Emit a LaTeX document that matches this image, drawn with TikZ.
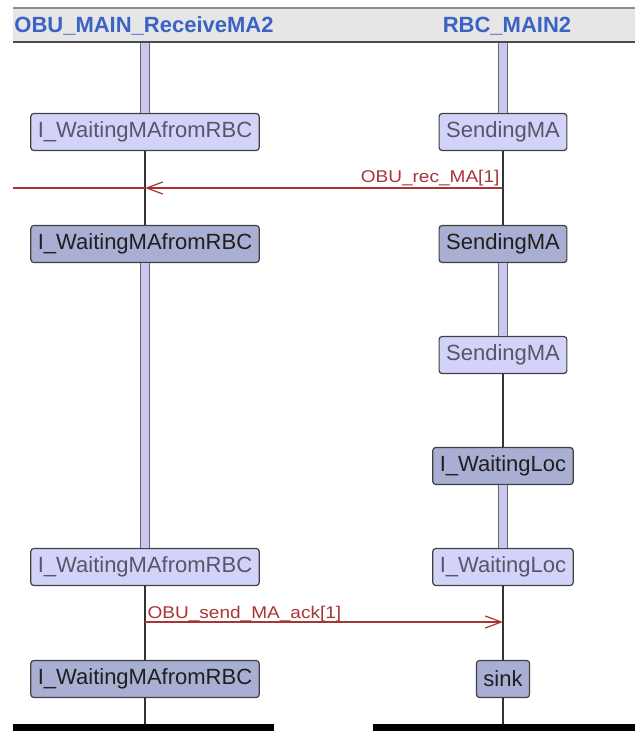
\documentclass[tikz,border=0pt]{standalone}
\usepackage{fontspec}
\setmainfont{Liberation Sans}
\newfontfamily\msgfont[FakeStretch=1.12]{Liberation Sans}
\usepackage{tikz}
\usetikzlibrary{arrows.meta}

\definecolor{stlight}{HTML}{D3D3F9}
\definecolor{stdark}{HTML}{A9AED3}
\definecolor{lighttext}{HTML}{55566A}
\definecolor{barfill}{HTML}{C8C8F0}
\definecolor{msgred}{HTML}{A83434}
\definecolor{titleblue}{HTML}{3C62C4}
\definecolor{hdrgray}{HTML}{E6E6E6}

\tikzset{
  statebox/.style={draw=black!75, rounded corners=1.5pt, line width=0.6pt,
    minimum height=18.5pt, inner xsep=3.5pt, inner ysep=0pt,
    font=\fontsize{11}{13}\selectfont},
  lightstate/.style={statebox, fill=stlight, text=lighttext},
  darkstate/.style={statebox, fill=stdark, text=black!88},
  lifebar/.style={draw=black!60, line width=0.5pt, double=barfill, double distance=3.8pt},
  lifeline/.style={draw=black!80, line width=0.6pt},
  msg/.style={msgred, line width=0.6pt, -{Straight Barb[length=8pt,width=6pt]}},
  msglabel/.style={text=msgred, font=\msgfont\fontsize{8.5}{10}\selectfont, inner sep=0pt},
  titletext/.style={text=titleblue, font=\bfseries\fontsize{11}{13}\selectfont, inner sep=0pt}
}

\begin{document}
\begin{tikzpicture}[x=0.5pt, y=-0.5pt]
                \useasboundingbox (0,0) rectangle (635,731);
                % header band
                \fill [hdrgray] (13,9) rectangle (635,41);
                \draw [black!45, line width=1pt] (13,8) -- (635,8);
                \draw [black!70, line width=1.3pt] (13,42) -- (635,42);
                \node [titletext, anchor=west] (obuname) at (14,26) {OBU\_MAIN\_ReceiveMA2};
                \node [titletext] (rbcname) at (507,26) {RBC\_MAIN2};
                \coordinate (topL) at (145,43);
                \coordinate (topR) at (503,43);
                \coordinate (endL) at (145,724);
                \coordinate (endR) at (503,724);
                % OBU states
                \node [lightstate] (obu1) at (145,132) {I\_WaitingMAfromRBC};
                \node [darkstate] (obu2) at (145,244) {I\_WaitingMAfromRBC};
                \node [lightstate] (obu3) at (145,567) {I\_WaitingMAfromRBC};
                \node [darkstate] (obu4) at (145,679) {I\_WaitingMAfromRBC};
                % RBC states
                \node [lightstate] (rbc1) at (503,132) {SendingMA};
                \node [darkstate] (rbc2) at (503,244) {SendingMA};
                \node [lightstate] (rbc3) at (503,355) {SendingMA};
                \node [darkstate] (rbc4) at (503,466) {I\_WaitingLoc};
                \node [lightstate] (rbc5) at (503,567) {I\_WaitingLoc};
                \node [darkstate] (rbc6) at (503,679) {sink};
                % lifelines
                \draw [lifebar] (topL) -- (obu1);
                \draw [lifebar] (obu2) -- (obu3);
                \draw [lifebar] (topR) -- (rbc1);
                \draw [lifebar] (rbc2) -- (rbc3);
                \draw [lifebar] (rbc4) -- (rbc5);
                \draw [lifeline] (obu1) -- (obu2);
                \draw [lifeline] (obu3) -- (obu4);
                \draw [lifeline] (obu4) -- (endL);
                \draw [lifeline] (rbc1) -- (rbc2);
                \draw [lifeline] (rbc3) -- (rbc4);
                \draw [lifeline] (rbc5) -- (rbc6);
                \draw [lifeline] (rbc6) -- (endR);
                % messages
                \coordinate (rbcA) at (503,188);
                \coordinate (obuA) at (145,188);
                \coordinate (offL) at (13,188);
                \draw [msg] (rbcA) -- node [msglabel, pos=0, anchor=base east, xshift=-1.5pt, yshift=2.5pt] {OBU\_rec\_MA[1]} (obuA);
                \draw [msgred, line width=0.6pt] (obuA) -- (offL);
                \coordinate (obuB) at (145,622);
                \coordinate (rbcB) at (503,622);
                \draw [msg] (obuB) -- node [msglabel, pos=0, anchor=base west, xshift=1pt, yshift=2pt] {OBU\_send\_MA\_ack[1]} (rbcB);
                % bottom bars
                \fill [black] (13,724) rectangle (274,731);
                \fill [black] (373,724) rectangle (635,731);
            \end{tikzpicture}
\end{document}
